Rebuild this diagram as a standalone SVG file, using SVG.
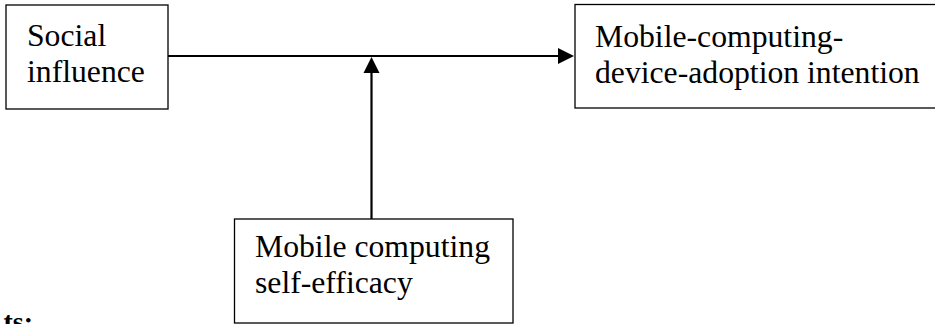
<svg xmlns="http://www.w3.org/2000/svg" width="935" height="324" viewBox="0 0 935 324">
  <defs>
    <style>
      .box { fill: #ffffff; stroke: #000000; stroke-width: 1.3; }
      .label { font-family: "Times New Roman", "Liberation Serif", serif; font-size: 31.7px; fill: #000000; }
      .edge { stroke: #000000; stroke-width: 2.2; fill: none; }
      .head { fill: #000000; }
      .cut { font-family: "Times New Roman", "Liberation Serif", serif; font-size: 28px; font-weight: bold; fill: #000000; }
    </style>
  </defs>
  <rect width="935" height="324" fill="#ffffff"/>

  <!-- connectors -->
  <g id="connectors">
    <line class="edge" x1="168" y1="56" x2="560" y2="56"/>
    <polygon class="head" points="574,56 558,48 558,64"/>
    <line class="edge" x1="371.5" y1="219" x2="371.5" y2="71"/>
    <polygon class="head" points="371.5,57 363.5,73 379.5,73"/>
  </g>

  <!-- nodes -->
  <g id="social-influence">
    <rect class="box" x="6" y="5" width="162" height="104"/>
    <text class="label" x="27" y="46">Social</text>
    <text class="label" x="27" y="82">influence</text>
  </g>

  <g id="adoption-intention">
    <rect class="box" x="575" y="4.5" width="370" height="103.5"/>
    <text class="label" x="595" y="47">Mobile-computing-</text>
    <text class="label" x="595" y="83">device-adoption intention</text>
  </g>

  <g id="self-efficacy">
    <rect class="box" x="234.5" y="219" width="278.5" height="104"/>
    <text class="label" x="255" y="257">Mobile computing</text>
    <text class="label" x="255" y="293">self-efficacy</text>
  </g>

  <text class="cut" x="33" y="331" text-anchor="end">ts:</text>
</svg>
